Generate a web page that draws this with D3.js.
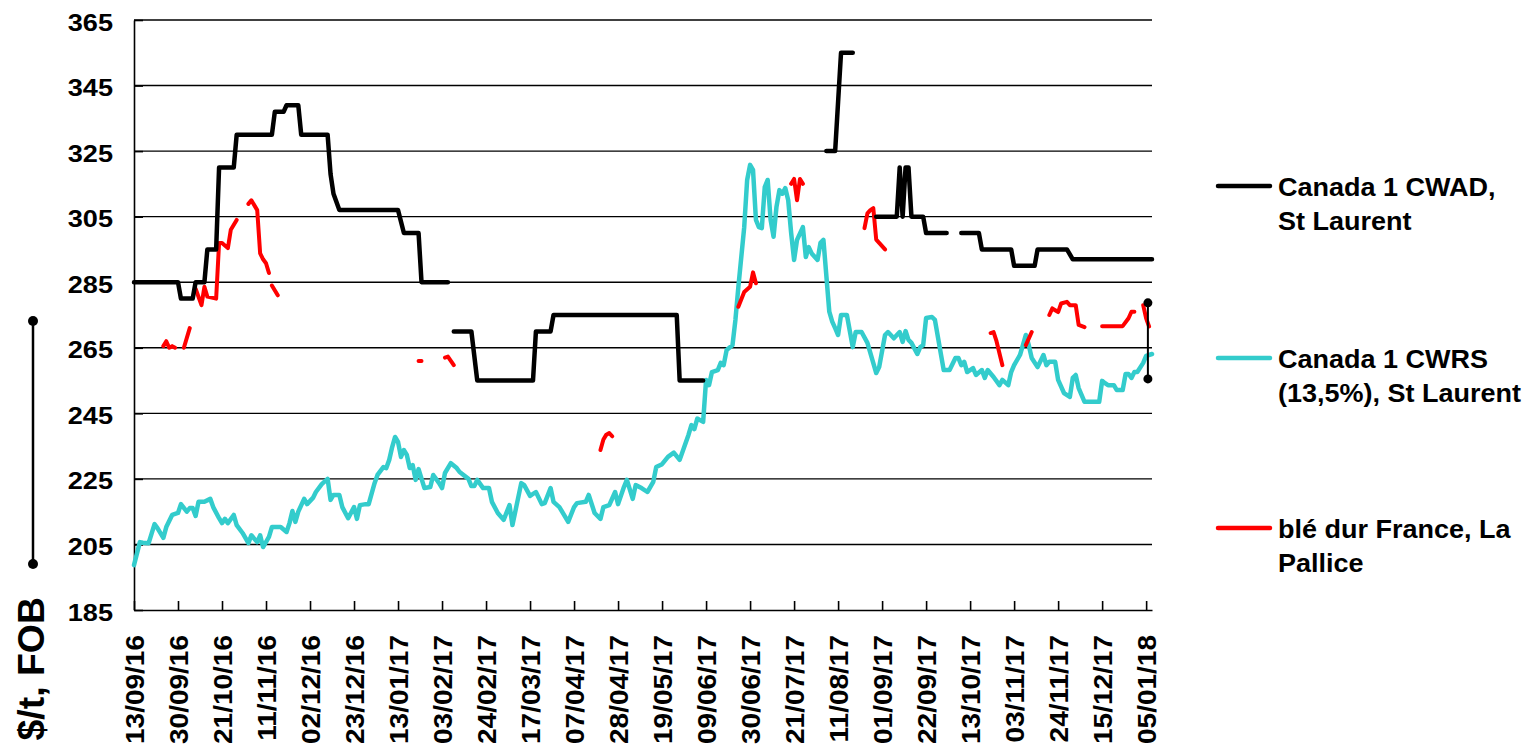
<!DOCTYPE html>
<html><head><meta charset="utf-8">
<script src="https://cdn.jsdelivr.net/npm/d3@7"></script>
<style>
html,body{margin:0;padding:0;background:#fff;}
svg{display:block;font-family:"Liberation Sans",Arial,sans-serif;font-weight:bold;}
</style></head>
<body>
<svg id="chart" width="1528" height="747"></svg>
<script>
// ---------- DATA ----------
const categories = ["13/09/16","30/09/16","21/10/16","11/11/16","02/12/16","23/12/16","13/01/17","03/02/17","24/02/17","17/03/17","07/04/17","28/04/17","19/05/17","09/06/17","30/06/17","21/07/17","11/08/17","01/09/17","22/09/17","13/10/17","03/11/17","24/11/17","15/12/17","05/01/18"];
const categoryStep = 15;      // business days between labels
const lastIndex = 347;        // last business-day index in the series
const yTicks = [185,205,225,245,265,285,305,325,345,365];
const seriesNames = [["Canada 1 CWAD,","St Laurent"],["Canada 1 CWRS","(13,5%), St Laurent"],["blé dur France, La","Pallice"]];

// [business-day index, $/t] ; null = gap
const cwad = [[0,285],[15,285],[16,280],[20,280],[21,285],[24,285],[25,295],[28,295],[29,320],[34,320],[35,330],[47,330],[48,337],[51,337],[52,339],[56,339],[57,330],[66,330],[67,318],[68,312],[70,307],[90,307],[92,300],[97,300],[98,285],[107,285],null,
[109,270],[115,270],[117,255],[136,255],[137,270],[142,270],[143,275],[185,275],[186,255],[194,255],null,
[236,325],[239,325],[240,340],[241,355],[245,355],null,
[253,305],[260,305],[261,320],[262,305],[263,320],[264,320],[265,305],[269,305],[270,300],[277,300],null,
[282,300],[288,300],[289,295],[299,295],[300,290],[307,290],[308,295],[318,295],[320,292],[347,292]];

const cwrs = [[0,198.7],[2,205.7],[3,205.5],[5,205.4],[7,211.2],[8,210],[10,207],[11,210.3],[13,214],[15,214.6],[16,217.3],[18,215],[19,216.1],[20,216.1],[21,213.7],[22,218],[24,218],[26,218.9],[27,216.4],[29,213],[30,211.5],[31,212.8],[32,211.5],[34,214],[35,210.9],[37,208.5],[39,205.4],[40,207.8],[42,205.7],[43,207.8],[44,204.2],[46,207.3],[47,210.3],[50,210.3],[52,208.8],[53,211.5],[54,215.2],[55,211.9],[56,215],[58,218.9],[59,217.3],[61,219.2],[62,221],[64,223.4],[66,225],[67,218.6],[68,220.1],[70,220.1],[71,216.4],[73,213],[75,216.4],[76,212.8],[77,217],[79,217.3],[80,217.3],[82,223.7],[83,226.2],[85,228.6],[86,228.3],[87,230.8],[88,234.7],[89,237.8],[90,236.3],[91,231.7],[92,233.8],[93,232.3],[94,228.3],[95,229.2],[96,224.7],[97,228],[99,222.2],[101,222.5],[102,226.2],[104,223.7],[105,222.2],[106,226.8],[108,229.8],[110,228.3],[111,227.1],[114,225],[115,222.8],[116,222.8],[117,224.7],[119,222.2],[121,222.2],[122,218],[124,214.6],[126,212.5],[128,217],[129,210.9],[132,223.7],[133,223.1],[135,219.8],[137,221],[139,217.3],[140,217.6],[142,222.2],[143,218],[145,216.4],[148,211.9],[150,216.4],[151,217.6],[154,218],[155,220.1],[157,214.6],[159,212.8],[160,216.4],[162,217],[164,221],[165,217.3],[167,222.5],[168,224.7],[170,218.9],[171,223.1],[173,222.2],[175,221],[177,224.1],[178,228.6],[180,229.5],[182,231.7],[184,233],[186,230.8],[188,235.9],[189,238.4],[190,241.4],[191,240.2],[192,243.4],[194,242.4],[195,255.2],[196,253.6],[197,257.6],[199,258.2],[200,260.4],[201,259.7],[202,264.3],[204,265.8],[205,273.5],[206,283.5],[208,301.8],[209,316.2],[210,320.8],[211,319.3],[212,304],[213,301.8],[214,301.5],[215,314],[216,316.2],[217,304],[218,298.9],[219,308],[220,313.1],[221,312],[222,313.7],[223,310],[224,300],[225,291.8],[226,297.9],[228,301.8],[229,292.7],[230,295.7],[231,293.8],[233,291.8],[234,297],[235,297.9],[237,276],[238,273],[239,271],[240,268.9],[241,275],[243,275],[245,265.2],[246,269.8],[248,269.8],[250,266.5],[253,257.3],[254,259.1],[256,268.9],[257,269.8],[259,267.9],[261,269.8],[262,266.8],[263,270.1],[264,267.4],[265,266.5],[267,263.1],[268,265.2],[269,265.8],[270,274.1],[272,274.4],[273,273.5],[276,258.2],[278,258.2],[280,261.9],[281,261.9],[282,259.7],[283,260.7],[284,257.6],[286,258.8],[287,256.7],[289,258.2],[290,255.8],[291,258.2],[293,256.1],[295,253.6],[296,255.2],[298,253.6],[299,257.6],[300,259.7],[302,262.8],[303,265.8],[304,268.9],[305,265.8],[306,261.9],[308,259.1],[310,262.8],[311,259.7],[312,260.7],[314,260.7],[315,255.2],[317,251.2],[319,250],[320,255.8],[321,256.7],[322,252.7],[324,248.5],[327,248.5],[329,248.5],[330,254.9],[331,254.2],[332,253.6],[334,253.6],[335,252.1],[337,252.1],[338,257],[339,257],[340,255.8],[341,257.6],[342,257.6],[344,260.4],[345,262.5],[347,263.1]];

const bleDur = [[10,265.5],[11,267],[12,265],[13,265.5],[14,265],null,
[17,265],[19,271],null,
[21,283],[23,278],[24,283.6],[25,280.6],[28,280],[29,297],[30,297],[32,295.4],[33,301],[35,304],null,
[39,308.9],[40,310],[42,307],[43,293.8],[44,292],[45,290.8],[46,287.8],null,
[47,284],[49,281],null,
[97,261],[98,261],null,
[106,262],[107,262.3],[109,259.7],null,
[159,233.8],[160,237],[161,238.5],[162,239],[163,238],null,
[206,277.5],[208,282],[210,283.6],[211,288],[212,284.7],null,
[224,315],[225,316.5],[226,310],[227,316.5],[228,315],null,
[249,301.5],[250,306],[251,307],[252,307.6],[253,298],[254,297],[256,295],null,
[292,269.5],[293,269.8],[294,267],[296,259.7],null,
[304,265.8],[306,269.8],null,
[312,275],[313,277],[315,275.9],[316,278.5],[318,279],[319,278],[321,278],[322,272],[324,271.3],null,
[330,271.6],[334,271.6],[337,271.6],[339,274],[340,276],[341,276],null,
[344,278],[345,274],[346,271.5]];

const rangeMarker = [345.6, 255.5, 278.7]; // index, low, high

// ---------- DRAW ----------
const FONT = "Liberation Sans, Arial, sans-serif";
const svg = d3.select("#chart");
const x = d3.scaleLinear().domain([0,lastIndex]).range([134,1152]);
const y = d3.scaleLinear().domain([185,365]).range([610,20]);

// gridlines
svg.append("g").selectAll("line").data(yTicks.slice(1)).join("line")
  .attr("x1",x(0)).attr("x2",x(lastIndex)).attr("y1",d=>y(d)).attr("y2",d=>y(d))
  .attr("stroke","#000").attr("stroke-width",1.4);

// y axis
const yAxis = svg.append("g").attr("transform",`translate(${x(0)},0)`)
  .call(d3.axisLeft(y).tickValues(yTicks).tickSizeInner(-9).tickSizeOuter(0).tickPadding(22));
yAxis.select(".domain").attr("stroke","#000").attr("stroke-width",1.6);
yAxis.selectAll(".tick line").attr("stroke","#000").attr("stroke-width",1.6);
yAxis.selectAll("text").attr("font-size",24).attr("font-family",FONT).attr("font-weight","bold").attr("fill","#000")
  .attr("x",0).attr("dy","0.42em").attr("text-anchor","end")
  .attr("transform","translate(-21,0) scale(1.13,1)");

// x axis
const tickIdx = categories.map((c,i)=>i*categoryStep);
const xAxis = svg.append("g").attr("transform",`translate(0,${y(185)})`)
  .call(d3.axisBottom(x).tickValues(tickIdx).tickSizeInner(-9).tickSizeOuter(0)
    .tickFormat((d,i)=>categories[i]));
xAxis.select(".domain").attr("stroke","#000").attr("stroke-width",1.6);
xAxis.selectAll(".tick line").attr("stroke","#000").attr("stroke-width",1.6);
xAxis.selectAll("text")
  .attr("font-size",25).attr("font-family",FONT).attr("font-weight","bold").attr("fill","#000")
  .attr("transform","rotate(-90) translate(-25,0) scale(1.12,1)").attr("text-anchor","end")
  .attr("x",0).attr("y",0).attr("dy","0.36em");

// lines
const line = d3.line().defined(d=>d!==null).x(d=>x(d[0])).y(d=>y(d[1]));
const series = [
  {data:cwad,color:"#000000",w:4.5},
  {data:cwrs,color:"#33CCCC",w:4.5},
  {data:bleDur,color:"#FF0000",w:4}
];
svg.append("g").selectAll("path").data([series[1],series[2],series[0]]).join("path")
  .attr("d",d=>line(d.data)).attr("fill","none")
  .attr("stroke",d=>d.color).attr("stroke-width",d=>d.w)
  .attr("stroke-linejoin","round").attr("stroke-linecap","round");

// range marker on the right
const mk = svg.append("g");
mk.append("line").attr("x1",x(rangeMarker[0])).attr("x2",x(rangeMarker[0]))
  .attr("y1",y(rangeMarker[1])).attr("y2",y(rangeMarker[2])).attr("stroke","#000").attr("stroke-width",2);
mk.selectAll("circle").data([rangeMarker[1],rangeMarker[2]]).join("circle")
  .attr("cx",x(rangeMarker[0])).attr("cy",d=>y(d)).attr("r",4.5).attr("fill","#000");

// left decoration next to axis title
const dec = svg.append("g");
dec.append("line").attr("x1",33).attr("x2",33).attr("y1",321).attr("y2",564).attr("stroke","#000").attr("stroke-width",2.5);
dec.selectAll("circle").data([321,564]).join("circle").attr("cx",33).attr("cy",d=>d).attr("r",5).attr("fill","#000");

// y title
svg.append("text").attr("transform","translate(44,597) rotate(-90) scale(1.04,1)")
  .attr("text-anchor","end").attr("font-size",36).attr("font-family",FONT).attr("font-weight","bold").attr("fill","#000")
  .text("$/t, FOB");

// legend
const legY = [186,358,528];
const lg = svg.append("g");
series.forEach((s,i)=>{
  lg.append("line").attr("x1",1218).attr("x2",1270).attr("y1",legY[i]).attr("y2",legY[i])
    .attr("stroke",s.color).attr("stroke-width",4.5).attr("stroke-linecap","round");
  const t = lg.append("text").attr("transform",`translate(1278,${legY[i]+10}) scale(1.08,1)`)
    .attr("font-size",25).attr("font-family",FONT).attr("font-weight","bold").attr("fill","#000");
  seriesNames[i].forEach((ln,j)=>{
    t.append("tspan").attr("x",0).attr("dy",j===0?0:34).text(ln);
  });
});
</script>
</body></html>
